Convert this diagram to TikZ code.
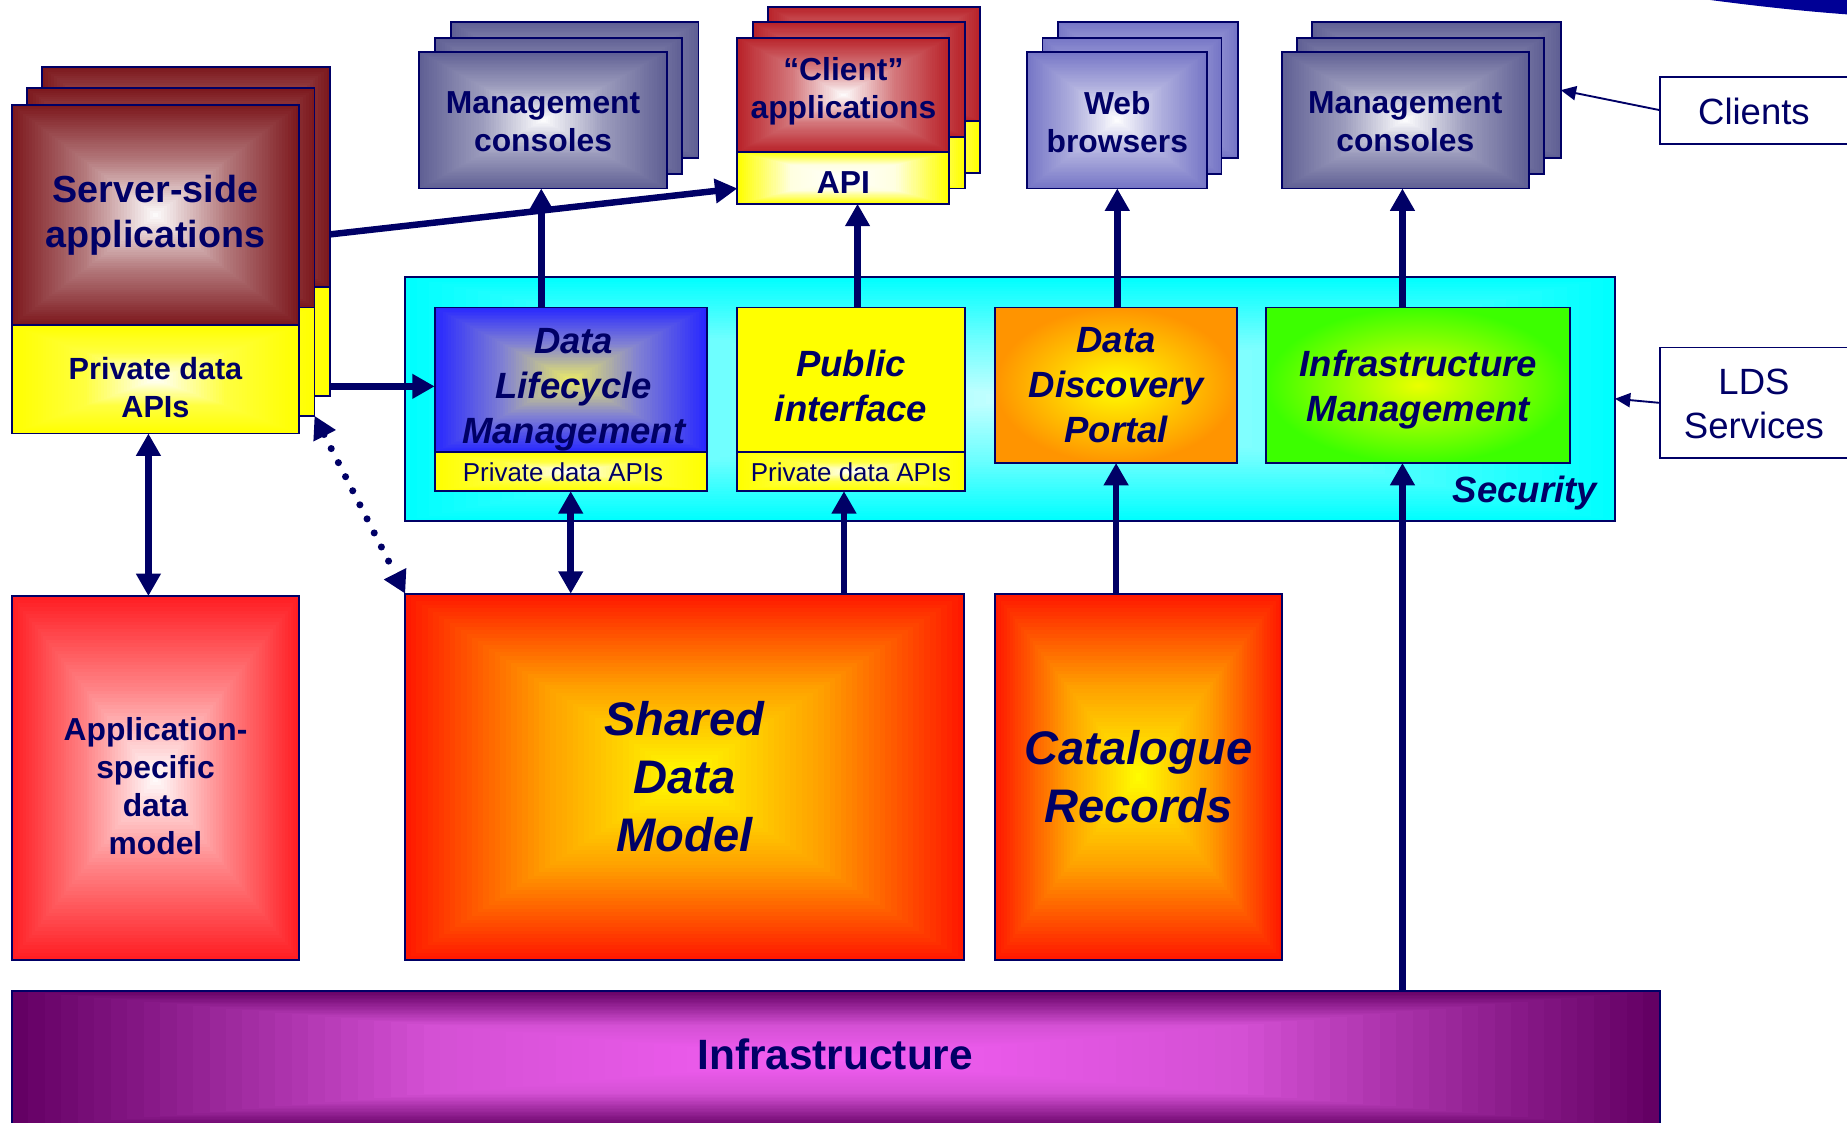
\documentclass[tikz,border=0pt]{standalone}
\usepackage{fontspec}
\setmainfont{Liberation Sans}
\usetikzlibrary{arrows.meta}

% ---------- colours ----------
\definecolor{ink}{RGB}{0,0,102}
\definecolor{swoosh}{RGB}{0,0,150}
% palettes: <name>E = edge, <name>M = half way, <name>C = centre
\definecolor{srvE}{RGB}{125,25,30}   \colorlet{srvM}{srvE!58!white} \colorlet{srvC}{white}
\definecolor{ylE}{RGB}{255,255,0}    \colorlet{ylM}{ylE!75!white}   \colorlet{ylC}{white}
\definecolor{apE}{RGB}{255,255,0}    \colorlet{apM}{apE!12!white}   \colorlet{apC}{white}
\definecolor{conE}{RGB}{96,96,148}   \colorlet{conM}{conE!62!white} \colorlet{conC}{white}
\definecolor{webE}{RGB}{118,118,198} \colorlet{webM}{webE!58!white} \colorlet{webC}{white}
\definecolor{cliE}{RGB}{185,35,42}   \colorlet{cliM}{cliE!62!white} \colorlet{cliC}{white}
\definecolor{scE}{RGB}{0,255,255}    \definecolor{scM}{RGB}{110,255,255} \definecolor{scC}{RGB}{200,255,255}
\definecolor{dlE}{RGB}{40,40,255}    \definecolor{dlM}{RGB}{130,130,210} \definecolor{dlC}{RGB}{238,238,100}
\definecolor{pbE}{RGB}{255,255,0}    \colorlet{pbM}{pbE}            \colorlet{pbC}{pbE}
\definecolor{orE}{RGB}{255,148,0}    \definecolor{orC}{RGB}{255,255,0}
\definecolor{grE}{RGB}{60,255,0}     \definecolor{grC}{RGB}{235,255,0}
\definecolor{htE}{RGB}{255,25,0}     \definecolor{htM}{RGB}{255,160,0}   \definecolor{htC}{RGB}{255,255,0}
\definecolor{asE}{RGB}{255,30,35}    \colorlet{asM}{asE!55!white}   \colorlet{asC}{white}
\definecolor{puE}{RGB}{100,0,100}    \definecolor{puM}{RGB}{212,80,212}  \definecolor{puC}{RGB}{245,95,245}

% rectangular "from centre" gradient: x1 y1 x2 y2 palette
\newcommand\gradrect[5]{%
  \foreach \gk in {0,...,49}{%
    \pgfmathsetmacro\gf{\gk/100}%
    \ifnum\gk<25
      \pgfmathtruncatemacro\gp{\gk*4}%
      \colorlet{gcur}{#5M!\gp!#5E}%
    \else
      \pgfmathtruncatemacro\gp{(\gk-25)*4}%
      \colorlet{gcur}{#5C!\gp!#5M}%
    \fi
    \fill[gcur] ({#1+(#3-#1)*\gf},{#2+(#4-#2)*\gf}) rectangle ({#3-(#3-#1)*\gf},{#4-(#4-#2)*\gf});%
  }%
}
% framed named box plus its caption: [caption style]{name}{x1}{y1}{x2}{y2}{text}
\newcommand\boxnode[7][]{%
  \node[frame, minimum width={#5-#3}, minimum height={#6-#4}] (#2) at ({(#3+#5)/2},{(#4+#6)/2}) {};%
  \if\relax\detokenize{#7}\relax\else
    \node[lbl, #1] (#2-t) at (#2.center) {#7};%
  \fi
}
\newcommand\gbox[8][]{\gradrect{#3}{#4}{#5}{#6}{#7}\boxnode[#1]{#2}{#3}{#4}{#5}{#6}{#8}}
\newcommand\rbox[8][]{\shade[inner color=#7C, outer color=#7E] (#3,#4) rectangle (#5,#6);\boxnode[#1]{#2}{#3}{#4}{#5}{#6}{#8}}

\tikzset{
  frame/.style={draw=ink, line width=1.6pt, inner sep=0pt, outer sep=0pt},
  lbl/.style={text=ink, align=center, inner sep=0pt},
  fA/.style={font=\fontsize{32}{38}\selectfont\bfseries},
  fB/.style={font=\fontsize{27}{32.3}\selectfont\bfseries},
  fBp/.style={font=\fontsize{26}{32}\selectfont\bfseries},
  fC/.style={font=\fontsize{31}{38}\selectfont\bfseries\itshape},
  fD/.style={font=\fontsize{40}{49}\selectfont\bfseries\itshape},
  fE/.style={font=\fontsize{22}{26}\selectfont},
  fF/.style={font=\fontsize{31}{38}\selectfont},
  fG/.style={font=\fontsize{36}{43}\selectfont\bfseries},
  conn/.style={draw=ink, line width=5.5pt, -{Triangle[length=19pt,width=20pt]}},
  conn2/.style={draw=ink, line width=5.5pt, {Triangle[length=19pt,width=20pt]}-{Triangle[length=19pt,width=20pt]}},
  slim/.style={draw=ink, line width=1.6pt, -{Triangle[length=13pt,width=12pt]}},
  dots/.style={draw=ink, line width=6pt, line cap=round, dash pattern=on 0pt off 13.4pt,
    {Triangle[length=19pt,width=20pt]}-{Triangle[length=19pt,width=20pt]}},
}

\begin{document}
\begin{tikzpicture}[x=1pt,y=-1pt]
\useasboundingbox (0,0) rectangle (1568,953);
\clip (0,0) rectangle (1568,953);
\fill[white] (0,0) rectangle (1568,953);

% corner swoosh
\fill[swoosh] (1452,-5) -- (1452,0) .. controls (1490,5) and (1530,9.5) .. (1572,12.5) -- (1572,-5) -- cycle;

% server-side applications stack
\gbox{srvB}{36}{57}{280}{244}{srv}{}
\gbox{srvBy}{36}{244}{280}{336}{yl}{}
\gbox{srvM}{23}{75}{267}{261}{srv}{}
\gbox{srvMy}{23}{261}{267}{353}{yl}{}
\gbox[fA]{srvF}{10}{89}{254}{276}{srv}{Server-side\\applications}
\gbox[fBp,yshift=-7pt]{srvFy}{10}{276}{254}{368}{yl}{Private data\\APIs}

% management consoles (left)
\gbox{conB}{383}{19}{593}{134}{con}{}
\gbox{conM}{369}{32}{579}{148}{con}{}
\gbox[fB,yshift=-1.5pt]{conF}{356}{44}{566}{160}{con}{Management\\consoles}

% client applications
\gbox{cliB}{652}{6}{832}{103}{cli}{}
\gbox{cliBy}{652}{103}{832}{147}{ap}{}
\gbox{cliM}{639}{19}{819}{116}{cli}{}
\gbox{cliMy}{639}{116}{819}{160}{ap}{}
\gbox[fB,yshift=3pt]{cliF}{626}{32}{806}{129}{cli}{“Client”\\applications}
\gbox[fB,yshift=-4pt]{api}{626}{129}{806}{173}{ap}{API}

% web browsers
\gbox{webB}{898}{19}{1051}{134}{web}{}
\gbox{webM}{885}{32}{1037}{148}{web}{}
\gbox[fB,yshift=-1.5pt]{webF}{872}{44}{1025}{160}{web}{Web\\browsers}

% management consoles (right)
\gbox{mgtB}{1114}{19}{1325}{134}{con}{}
\gbox{mgtM}{1101}{32}{1311}{148}{con}{}
\gbox[fB,yshift=-1.5pt]{mgtF}{1088}{44}{1298}{160}{con}{Management\\consoles}

% security layer and services
\gbox{sec}{344}{235}{1371}{442}{sc}{}
\node[lbl,fC,anchor=base east] (sec-t) at (1356,427) {Security};
\gbox[fC,yshift=-8.5pt,xshift=2.5pt]{dlm}{369}{261}{600}{384}{dl}{Data\\Lifecycle\\Management}
\gbox[fE,xshift=-6.5pt]{dlmP}{369}{384}{600}{417}{yl}{Private data APIs}
\gbox[fC,yshift=-5pt]{pub}{626}{261}{819}{384}{pb}{Public\\interface}
\gbox[fE]{pubP}{626}{384}{819}{417}{yl}{Private data APIs}
\rbox[fC]{ddp}{845}{261}{1050}{393}{or}{Data\\Discovery\\Portal}
\rbox[fC,yshift=-4pt]{im}{1075}{261}{1333}{393}{gr}{Infrastructure\\Management}

% data models
\gbox[fB,yshift=-7pt]{appdm}{10}{506}{254}{815}{as}{Application-\\specific\\data\\model}
\gbox[fD]{shared}{344}{504}{818}{815}{ht}{Shared\\Data\\Model}
\gbox[fD]{cat}{845}{504}{1088}{815}{ht}{Catalogue\\Records}

% infrastructure
\gbox{infra}{10}{841}{1409}{958}{pu}{}
\node[lbl,fG] (infra-t) at (709,895) {Infrastructure};

% side legends
\node[frame,fill=white,minimum width=200,minimum height=57] (clients) at (1509,93.5) {};
\node[lbl,fF] (clients-t) at (1489,95) {Clients};
\node[frame,fill=white,minimum width=200,minimum height=94] (lds) at (1509,342) {};
\node[lbl,fF] (lds-t) at (1489,343) {LDS\\Services};

% connectors
\coordinate (s1) at ([yshift=-48.5pt]srvB.east);
\coordinate (e1) at ([yshift=-9pt]api.west);
\draw[conn] (s1) -- (e1);
\coordinate (s2) at ([yshift=-38pt]srvBy.east);
\draw[conn] (s2) -- (s2 -| dlm.west);
\coordinate (a3) at ([xshift=-1.5pt]conF.south);
\draw[conn] (a3 |- dlm.north) -- (a3);
\coordinate (a4) at ([xshift=12pt]api.south);
\draw[conn] (a4 |- pub.north) -- (a4);
\draw[conn] (webF.south |- ddp.north) -- (webF.south);
\coordinate (a6) at ([xshift=-2.4pt]mgtF.south);
\draw[conn] (a6 |- im.north) -- (a6);
\coordinate (a7) at ([xshift=-6pt]srvFy.south);
\draw[conn2] (a7) -- (a7 |- appdm.north);
\draw[dots] (srvMy.south east) -- (shared.north west);
\draw[conn2] (dlmP.south) -- (dlmP.south |- shared.north);
\coordinate (a10) at ([xshift=-6pt]pubP.south);
\draw[conn] (a10 |- shared.north) -- (a10);
\draw[conn] (ddp.south |- cat.north) -- (ddp.south);
\draw[conn] (a6 |- infra.north) -- (a6 |- im.south);
\draw[slim] (clients.west) -- (mgtB.east);
\draw[slim] (lds.west) -- (sec.east);
\end{tikzpicture}
\end{document}
